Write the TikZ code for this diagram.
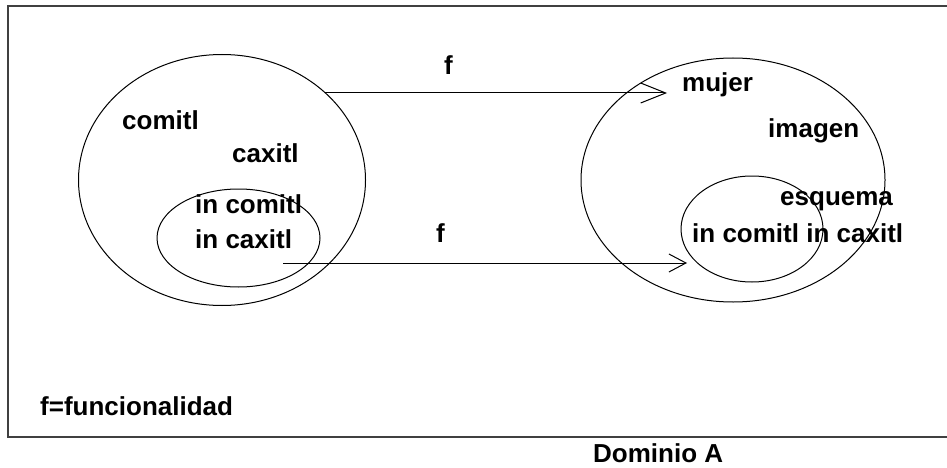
\documentclass[tikz,border=0pt]{standalone}
\usepackage{fontspec}
\setmainfont{Liberation Sans}
\usetikzlibrary{shapes.geometric,arrows.meta}
\tikzset{
  setshape/.style={ellipse, draw=black, line width=1pt, inner sep=0pt},
  lbl/.style={anchor=base west, inner sep=0pt, font=\fontsize{26}{30}\selectfont\bfseries},
  maparrow/.style={draw=black, line width=1pt},
}
\begin{document}
\begin{tikzpicture}[x=1pt, y=-1pt]
\useasboundingbox (0,0) rectangle (947,468);
\clip (0,0) rectangle (947,468);
\fill[white] (0,0) rectangle (947,468);
% frame
\draw[line width=2pt, black!75] (960,6) -- (8,6) -- (8,437) -- (960,437);
% sets
\node[setshape, minimum width=287pt, minimum height=251pt] (L) at (222,180) {};
\node[setshape, minimum width=163pt, minimum height=98pt] (Ls) at (238.5,238) {};
\node[setshape, minimum width=304pt, minimum height=244pt] (R) at (733,180) {};
\node[setshape, minimum width=142pt, minimum height=106pt] (Rs) at (752,229) {};
% labels
\node[lbl] (t1) at (122,130) {comitl};
\node[lbl] (t2) at (232,162) {caxitl};
\node[lbl] (t3) at (195,213) {in comitl};
\node[lbl] (t4) at (195,248) {in caxitl};
\node[lbl] (t5) at (682,92) {mujer};
\node[lbl] (t6) at (768,137) {imagen};
\node[lbl] (t7) at (780,205) {esquema};
\node[lbl] (t8) at (692,242) {in comitl in caxitl};
\node[lbl] (f1) at (444,75) {f};
\node[lbl] (f2) at (436,242) {f};
\node[lbl] (leg) at (40,415) {f=funcionalidad};
\node[lbl] (dom) at (593,462) {Dominio A};
% arrows
\coordinate (a1s) at (325,93);
\coordinate (a1e) at (667,93);
\coordinate (a2s) at (283,263);
\coordinate (a2e) at (687,263);
\draw[maparrow, -{Straight Barb[length=25pt, width=20pt, line width=1pt]}] (a1s) -- (a1e);
\draw[maparrow, -{Straight Barb[length=17pt, width=18pt, line width=1pt]}] (a2s) -- (a2e);
\end{tikzpicture}
\end{document}
